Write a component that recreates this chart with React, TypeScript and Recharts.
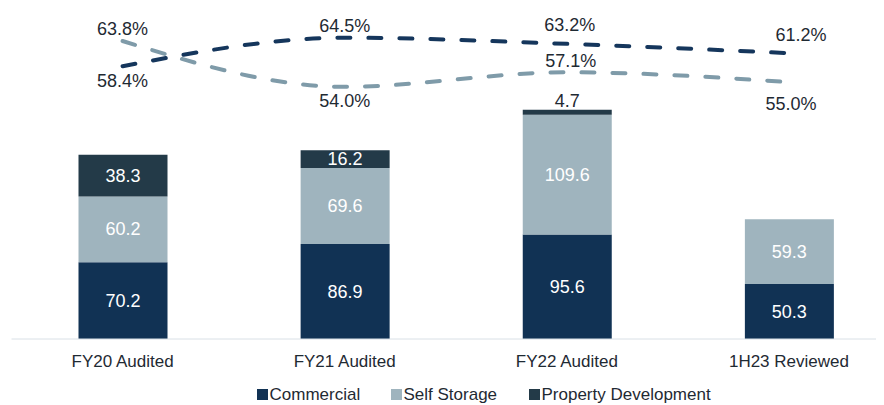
import React from 'react';
import { ComposedChart, Bar, Line, XAxis, YAxis, Legend, LabelList } from 'recharts';

// Revenue by segment (stacked bars) and two ratio lines (%)
const categories = ['FY20 Audited', 'FY21 Audited', 'FY22 Audited', '1H23 Reviewed'];
const commercial = [70.2, 86.9, 95.6, 50.3];
const selfStorage = [60.2, 69.6, 109.6, 59.3];
const propertyDevelopment = [38.3, 16.2, 4.7, 0];
const ratioA = [58.4, 64.5, 63.2, 61.2];
const ratioB = [63.8, 54.0, 57.1, 55.0];

// label nudges [dx, dy] for the line value labels
const ratioAOffsets = [[0, 15], [0, -12], [3, -19], [12, -18]];
const ratioBOffsets = [[0, -12], [0, 14], [4, -11], [2, 22]];

const data = categories.map((name, i) => ({
  name,
  commercial: commercial[i],
  selfStorage: selfStorage[i],
  propertyDevelopment: propertyDevelopment[i],
  ratioA: ratioA[i],
  ratioB: ratioB[i],
}));

const FONT = '"Liberation Sans", Arial, Helvetica, sans-serif';
const TEXT = '#1f2a33';
const COLORS = {
  commercial: '#113254',
  selfStorage: '#9fb4be',
  propertyDevelopment: '#233a48',
  ratioA: '#15365c',
  ratioB: '#7f9ba9',
};

const barLabel = (props: any) => {
  const x = Number(props.x);
  const y = Number(props.y);
  const width = Number(props.width);
  const height = Number(props.height);
  const value = Number(props.value);
  if (!value) return null;
  const small = height < 12;
  return (
    <text
      x={x + width / 2}
      y={small ? y - 9 : y + height / 2}
      textAnchor="middle"
      dominantBaseline="central"
      fill={small ? TEXT : '#ffffff'}
      fontSize={18}
      fontFamily={FONT}
    >
      {value.toFixed(1)}
    </text>
  );
};

const lineLabel = (offsets: number[][]) => (props: any) => {
  const [dx, dy] = offsets[props.index] || [0, 0];
  return (
    <text
      x={Number(props.x) + dx}
      y={Number(props.y) + dy}
      textAnchor="middle"
      dominantBaseline="central"
      fill={TEXT}
      fontSize={18}
      fontFamily={FONT}
    >
      {Number(props.value).toFixed(1)}%
    </text>
  );
};

const legendItems = [
  { label: 'Commercial', color: COLORS.commercial, left: 245 },
  { label: 'Self Storage', color: COLORS.selfStorage, left: 379 },
  { label: 'Property Development', color: COLORS.propertyDevelopment, left: 517 },
];

const renderLegend = () => (
  <div style={{ position: 'relative', height: 34, fontFamily: FONT }}>
    {legendItems.map((item) => (
      <div
        key={item.label}
        style={{
          position: 'absolute',
          left: item.left,
          top: 14,
          display: 'flex',
          alignItems: 'center',
          fontSize: 17,
          lineHeight: '19px',
          color: TEXT,
          whiteSpace: 'nowrap',
        }}
      >
        <span style={{ width: 11, height: 11, background: item.color, marginRight: 2, display: 'inline-block' }} />
        {item.label}
      </div>
    ))}
  </div>
);

export default function App() {
  return (
    <div style={{ width: 876, height: 397, overflow: 'hidden', fontFamily: FONT }}>
      <ComposedChart
        width={892}
        height={397}
        data={data}
        margin={{ top: 12, right: 0, left: 3.5, bottom: 0 }}
      >
        <XAxis
          dataKey="name"
          axisLine={{ stroke: '#d9e0e6' }}
          tickLine={false}
          tickSize={0}
          tickMargin={16}
          height={32}
          tick={{ fill: TEXT, fontSize: 17, fontFamily: FONT }}
          interval={0}
        />
        <YAxis yAxisId="left" domain={[0, 292]} hide />
        <YAxis yAxisId="right" orientation="right" domain={[0, 68.3]} hide />
        <Legend verticalAlign="bottom" height={34} content={renderLegend} />
        <Bar yAxisId="left" dataKey="commercial" stackId="s" fill={COLORS.commercial} barSize={89} isAnimationActive={false}>
          <LabelList dataKey="commercial" content={barLabel} />
        </Bar>
        <Bar yAxisId="left" dataKey="selfStorage" stackId="s" fill={COLORS.selfStorage} barSize={89} isAnimationActive={false}>
          <LabelList dataKey="selfStorage" content={barLabel} />
        </Bar>
        <Bar
          yAxisId="left"
          dataKey="propertyDevelopment"
          stackId="s"
          fill={COLORS.propertyDevelopment}
          barSize={89}
          isAnimationActive={false}
        >
          <LabelList dataKey="propertyDevelopment" content={barLabel} />
        </Bar>
        <Line
          yAxisId="right"
          type="monotone"
          dataKey="ratioB"
          stroke={COLORS.ratioB}
          strokeWidth={4}
          strokeDasharray="13 18"
          strokeLinecap="round"
          dot={false}
          isAnimationActive={false}
        >
          <LabelList dataKey="ratioB" content={lineLabel(ratioBOffsets)} />
        </Line>
        <Line
          yAxisId="right"
          type="monotone"
          dataKey="ratioA"
          stroke={COLORS.ratioA}
          strokeWidth={4}
          strokeDasharray="13 18"
          strokeLinecap="round"
          dot={false}
          isAnimationActive={false}
        >
          <LabelList dataKey="ratioA" content={lineLabel(ratioAOffsets)} />
        </Line>
      </ComposedChart>
    </div>
  );
}
